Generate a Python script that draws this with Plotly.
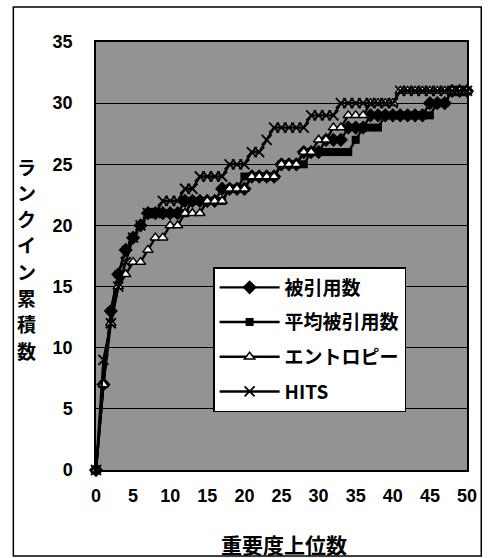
import plotly.graph_objects as go

x_rank = list(range(0, 51))

cited = [0, 7, 13, 16, 18, 19, 20, 21, 21, 21, 21, 21, 22, 22, 22, 22, 22, 23, 23, 23,
         23, 24, 24, 24, 24, 25, 25, 25, 26, 26, 26, 27, 27, 27, 28, 28, 28, 29, 29, 29,
         29, 29, 29, 29, 29, 30, 30, 30, 31, 31, 31]
avg_cited = [0, 7, 13, 16, 18, 19, 20, 21, 21, 21, 21, 21, 21, 22, 22, 22, 22, 22, 23, 23,
             24, 24, 24, 24, 24, 25, 25, 25, 25, 26, 26, 26, 26, 26, 26, 27, 28, 28, 28, 29,
             29, 29, 29, 29, 29, 29, 30, 30, 31, 31, 31]
entropy = [0, 7, 12, 15, 16, 17, 17, 18, 19, 19, 20, 20, 21, 21, 21, 22, 22, 22, 23, 23,
           23, 24, 24, 24, 24, 25, 25, 25, 26, 26, 27, 27, 28, 28, 29, 29, 29, 30, 30, 30,
           30, 31, 31, 31, 31, 31, 31, 31, 31, 31, 31]
hits = [0, 9, 12, 15, 17, 19, 20, 21, 21, 22, 22, 22, 23, 23, 24, 24, 24, 24, 25, 25,
        25, 26, 26, 27, 28, 28, 28, 28, 28, 29, 29, 29, 29, 30, 30, 30, 30, 30, 30, 30,
        30, 31, 31, 31, 31, 31, 31, 31, 31, 31, 31]

names = ["被引用数", "平均被引用数", "エントロピー", "HITS"]
x_ticks = [0, 5, 10, 15, 20, 25, 30, 35, 40, 45, 50]
y_ticks = [0, 5, 10, 15, 20, 25, 30, 35]
y_title = "ランクイン累積数"
x_title = "重要度上位数"

FONT = "Liberation Sans, Arial, Noto Sans CJK JP, sans-serif"
JFONT = "Noto Sans CJK JP, Liberation Sans, sans-serif"

W, H = 489, 558
L, R, T, B = 96, 16, 42, 88
PW, PH = W - L - R, H - T - B


def px_x(p):  # page pixel -> paper x
    return (p - L) / PW


def px_y(p):  # page pixel -> paper y
    return (H - B - p) / PH


fig = go.Figure()
styles = [
    dict(symbol="diamond", size=11, color="black"),
    dict(symbol="square", size=8, color="black"),
    dict(symbol="triangle-up", size=9, color="white", line=dict(color="black", width=1.5)),
    dict(symbol="x-thin-open", size=10, color="black", line=dict(color="black", width=1.8)),
]
for name, ys, mk in zip(names, [cited, avg_cited, entropy, hits], styles):
    fig.add_trace(go.Scatter(
        x=x_rank, y=ys, name=name, legendgroup=name, mode="lines+markers",
        line=dict(color="black", width=2.4), marker=mk, cliponaxis=False,
    ))

annotations = []
for i, ch in enumerate(y_title):
    annotations.append(dict(
        text=ch, x=px_x(25), y=px_y(166 + i * 26.3), xref="paper", yref="paper",
        showarrow=False, xanchor="center", yanchor="middle",
        font=dict(family=JFONT, size=19, weight="bold")))
annotations.append(dict(
    text=x_title, x=px_x(287), y=px_y(544), xref="paper", yref="paper",
    showarrow=False, xanchor="center", yanchor="middle",
    font=dict(family=JFONT, size=21, weight="bold")))

fig.update_layout(
    width=W, height=H,
    margin=dict(l=L, r=R, t=T, b=B),
    paper_bgcolor="white",
    plot_bgcolor="#939393",
    font=dict(family=FONT, color="black"),
    showlegend=True,
    legend=dict(
        x=px_x(215), y=px_y(267), xanchor="left", yanchor="top",
        bgcolor="white", bordercolor="black", borderwidth=1.5,
        font=dict(family=JFONT, size=19, color="black", weight="bold"),
        itemwidth=60, tracegroupgap=7,
    ),
    xaxis=dict(
        range=[0, 50], tickvals=x_ticks, ticktext=[str(v) for v in x_ticks],
        showgrid=False, zeroline=False, showline=True, linecolor="black", linewidth=1.5,
        mirror=True, ticks="", ticklabelstandoff=9,
        tickfont=dict(family=FONT, size=18, weight="bold"),
    ),
    yaxis=dict(
        range=[0, 35], tickvals=y_ticks, ticktext=[str(v) for v in y_ticks],
        showgrid=True, gridcolor="black", gridwidth=1, zeroline=False,
        showline=True, linecolor="black", linewidth=1.5, mirror=True, ticks="",
        ticklabelstandoff=18,
        tickfont=dict(family=FONT, size=18, weight="bold"),
    ),
    annotations=annotations,
    shapes=[
        dict(type="rect", xref="paper", yref="paper", x0=px_x(12), x1=px_x(487.5),
             y0=px_y(556), y1=px_y(7), line=dict(color="black", width=1.5), layer="below"),
    ],
)

fig.write_html(
    "out.html",
    config={"displayModeBar": False},
    post_script="document.body.style.margin='0';document.body.style.padding='0';"
                "document.body.style.overflow='hidden';",
)
